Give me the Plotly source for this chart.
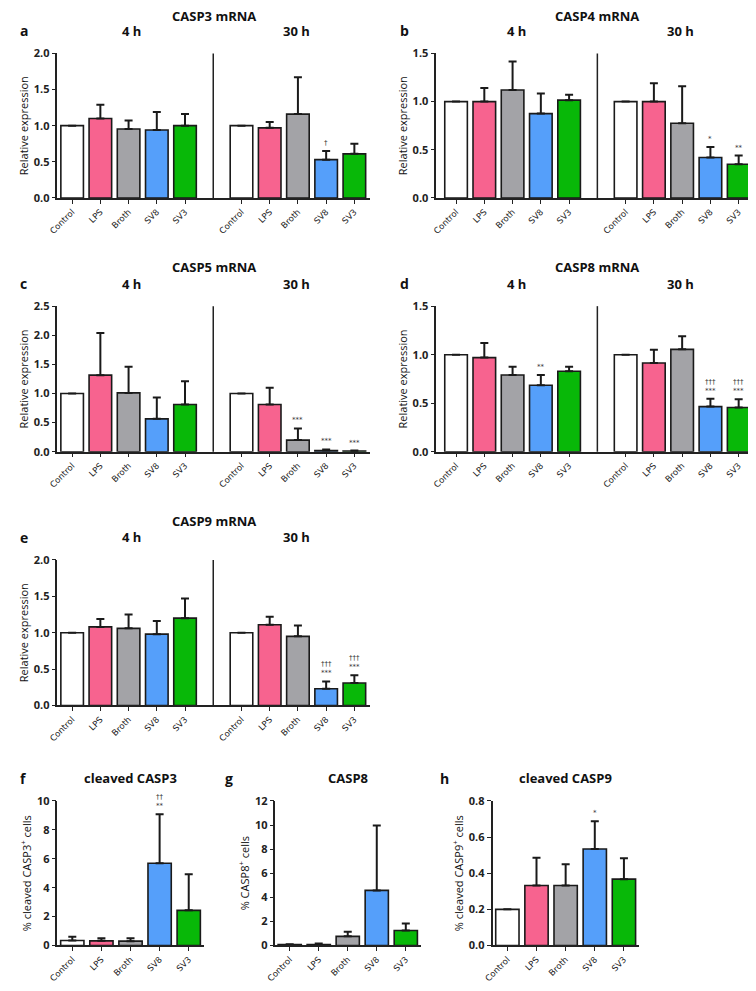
import plotly.graph_objects as go

# page is 756x991; body has an 8px margin, so the figure itself is 740x975
W, H = 740, 975
PAD = 8

groups = ['Control', 'LPS', 'Broth', 'SV8', 'SV3']
colors = ['#ffffff', '#f7638f', '#a3a3a7', '#559ffa', '#08b808']

# mRNA panels: 4 h and 30 h means, upper error
casp3_4h = [1.0, 1.10, 0.955, 0.94, 1.0]
casp3_4h_err = [0, 0.19, 0.115, 0.25, 0.16]
casp3_30h = [1.0, 0.97, 1.16, 0.53, 0.61]
casp3_30h_err = [0, 0.08, 0.51, 0.12, 0.14]
casp3_marks = ['', '', '', '', '', '', '', '', '†', '']

casp4_4h = [1.0, 1.0, 1.12, 0.875, 1.015]
casp4_4h_err = [0, 0.14, 0.295, 0.21, 0.055]
casp4_30h = [1.0, 1.0, 0.775, 0.42, 0.35]
casp4_30h_err = [0, 0.19, 0.385, 0.11, 0.09]
casp4_marks = ['', '', '', '', '', '', '', '', '*', '**']

casp5_4h = [1.0, 1.315, 1.01, 0.565, 0.81]
casp5_4h_err = [0, 0.725, 0.45, 0.365, 0.40]
casp5_30h = [1.0, 0.81, 0.20, 0.02, 0.01]
casp5_30h_err = [0, 0.29, 0.20, 0.02, 0.01]
casp5_marks = ['', '', '', '', '', '', '', '***', '***', '***']

casp8_4h = [1.0, 0.97, 0.79, 0.685, 0.83]
casp8_4h_err = [0, 0.15, 0.085, 0.105, 0.045]
casp8_30h = [1.0, 0.915, 1.055, 0.465, 0.455]
casp8_30h_err = [0, 0.135, 0.135, 0.08, 0.085]
casp8_marks = ['', '', '', '**', '', '', '', '', '†††<br>***', '†††<br>***']

casp9_4h = [1.0, 1.08, 1.06, 0.98, 1.20]
casp9_4h_err = [0, 0.11, 0.19, 0.18, 0.27]
casp9_30h = [1.0, 1.11, 0.95, 0.23, 0.31]
casp9_30h_err = [0, 0.11, 0.15, 0.10, 0.105]
casp9_marks = ['', '', '', '', '', '', '', '', '†††<br>***', '†††<br>***']

# protein panels
cl_casp3 = [0.34, 0.32, 0.30, 5.69, 2.43]
cl_casp3_err = [0.27, 0.18, 0.20, 3.38, 2.49]
cl_casp3_marks = ['', '', '', '††<br>**', '']

casp8_prot = [0.08, 0.08, 0.76, 4.57, 1.25]
casp8_prot_err = [0.02, 0.08, 0.38, 5.39, 0.57]
casp8_prot_marks = ['', '', '', '', '']

cl_casp9 = [0.2, 0.332, 0.332, 0.534, 0.367]
cl_casp9_err = [0, 0.154, 0.118, 0.154, 0.116]
cl_casp9_marks = ['', '', '', '*', '']

FONT = 'Open Sans'
INK = '#222222'

fig = go.Figure()
layout = dict(
    width=W, height=H, margin=dict(l=0, r=0, t=0, b=0),
    paper_bgcolor='white', plot_bgcolor='white', showlegend=False,
    font=dict(family=FONT, color=INK),
)
annotations = []
shapes = []


def px(x):
    return min(max((x - PAD) / W, 0), 1)


def py(y):
    return min(max(1 - (y - PAD) / H, 0), 1)


def text(x, y, s, size=13, xanchor='center'):
    annotations.append(dict(
        x=px(x), y=py(y), xref='paper', yref='paper', text=s, showarrow=False,
        xanchor=xanchor, yanchor='middle',
        font=dict(family=FONT, size=size, color='#111', weight='bold')))


def panel(n, xpix, ypix, xr, ymax, dtick, fmt, xs, labels, vals, errs, marks, ytitle):
    xa = 'xaxis' if n == 1 else 'xaxis%d' % n
    ya = 'yaxis' if n == 1 else 'yaxis%d' % n
    xr_ = 'x' if n == 1 else 'x%d' % n
    yr_ = 'y' if n == 1 else 'y%d' % n
    layout[xa] = dict(
        domain=[px(xpix[0]), px(xpix[1])], anchor=yr_, range=xr,
        tickvals=xs, ticktext=labels, tickangle=-45,
        tickfont=dict(family='DejaVu Sans', size=8.5, color=INK),
        showline=True, linecolor=INK, linewidth=1.5,
        ticks='outside', ticklen=4, tickwidth=1.2, tickcolor=INK,
        showgrid=False, zeroline=False, fixedrange=True)
    layout[ya] = dict(
        domain=[py(ypix[1]), py(ypix[0])], anchor=xr_, range=[0, ymax],
        dtick=dtick, tickformat=fmt,
        tickfont=dict(family=FONT, size=11, color=INK, weight='bold'),
        title=dict(text=ytitle, standoff=3,
                   font=dict(family=FONT, size=11, color='#111')),
        showline=True, linecolor=INK, linewidth=1.5,
        ticks='outside', ticklen=4, tickwidth=1.2, tickcolor=INK,
        showgrid=False, zeroline=False, fixedrange=True)
    cols = (colors * 2)[:len(xs)]
    up = [e if e > 0 else None for e in errs]
    fig.add_trace(go.Bar(
        x=xs, y=vals, width=0.8, xaxis=xr_, yaxis=yr_,
        marker=dict(color=cols, line=dict(color='#1a1a1a', width=1.6)),
        error_y=dict(type='data', symmetric=False, array=up,
                     arrayminus=[0] * len(errs), color='#1a1a1a',
                     thickness=2, width=4),
        hoverinfo='skip'))
    for x, v, e, m in zip(xs, vals, errs, marks):
        if m:
            annotations.append(dict(
                x=x, y=v + e, xref=xr_, yref=yr_, text=m, showarrow=False,
                yanchor='bottom', yshift=2,
                font=dict(family='DejaVu Sans', size=7, color='#333')))


mrna_x = [0, 1, 2, 3, 4, 6, 7, 8, 9, 10]
mrna_lab = groups * 2

mrna = [
    ('CASP3 mRNA', 'a', 0, 0, 2.0, casp3_4h + casp3_30h, casp3_4h_err + casp3_30h_err, casp3_marks),
    ('CASP4 mRNA', 'b', 1, 0, 1.5, casp4_4h + casp4_30h, casp4_4h_err + casp4_30h_err, casp4_marks),
    ('CASP5 mRNA', 'c', 0, 1, 2.5, casp5_4h + casp5_30h, casp5_4h_err + casp5_30h_err, casp5_marks),
    ('CASP8 mRNA', 'd', 1, 1, 1.5, casp8_4h + casp8_30h, casp8_4h_err + casp8_30h_err, casp8_marks),
    ('CASP9 mRNA', 'e', 0, 2, 2.0, casp9_4h + casp9_30h, casp9_4h_err + casp9_30h_err, casp9_marks),
]
row_top = [46, 303, 561]
row_bot = [193, 451, 709]
row_title = [8, 263, 521]
row_head = [23, 280, 538]

n = 0
for title, letter, col, row, ymax, vals, errs, marks in mrna:
    n += 1
    if col == 0:
        xpix, xr, off = (48, 365), [-0.52, 10.56], 0
    else:
        xpix, xr, off = (432, 748), [-0.7, 10.33], 384
    panel(n, xpix, (row_top[row], row_bot[row]), xr, ymax, 0.5, '.1f',
          mrna_x, mrna_lab, vals, errs, marks, 'Relative expression')
    xr_ = 'x' if n == 1 else 'x%d' % n
    yr_ = 'y' if n == 1 else 'y%d' % n
    shapes.append(dict(type='line', xref=xr_, yref=yr_ + ' domain',
                       x0=5, x1=5, y0=0, y1=1,
                       line=dict(color=INK, width=1.5)))
    text(207 + off + 4 * col, row_title[row], title, 13)
    text(5 + off + 4 * col, row_head[row], letter, 14, xanchor='left')
    text(123 + off + 6 * col, row_head[row], '4 h', 13)
    text(290 + off + 6 * col, row_head[row], '30 h', 13)

prot_x = [0, 1, 2, 3, 4]
prot = [
    ('cleaved CASP3', 'f', (48, 197), [-0.51, 4.54], 10, 2, '', cl_casp3, cl_casp3_err, cl_casp3_marks,
     '% cleaved CASP3<sup>+</sup> cells', 122, 5),
    ('CASP8', 'g', (269, 417), [-0.49, 4.54], 12, 2, '', casp8_prot, casp8_prot_err, casp8_prot_marks,
     '% CASP8<sup>+</sup> cells', 343, 216),
    ('cleaved CASP9', 'h', (489, 637), [-0.51, 4.5], 0.8, 0.2, '.1f', cl_casp9, cl_casp9_err, cl_casp9_marks,
     '% cleaved CASP9<sup>+</sup> cells', 563, 434),
]
for title, letter, xpix, xr, ymax, dt, fmt, vals, errs, marks, ylab, tx, lx in prot:
    n += 1
    panel(n, xpix, (806, 953), xr, ymax, dt, fmt, prot_x, groups, vals, errs, marks, ylab)
    text(tx, 783, title, 13)
    text(lx, 783, letter, 14, xanchor='left')

layout['annotations'] = annotations
layout['shapes'] = shapes
fig.update_layout(**layout)
fig.write_html('out.html')
